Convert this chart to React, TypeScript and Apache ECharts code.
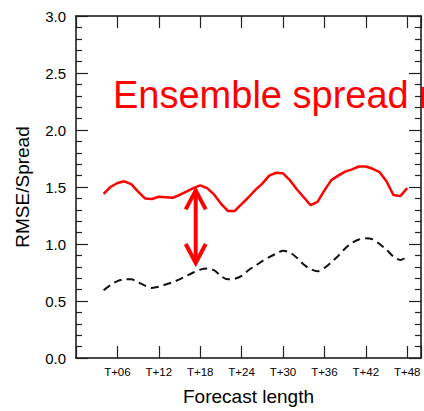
import React, { useEffect, useRef } from "react";
import * as echarts from "echarts";

const hours = [4, 5, 6, 7, 8, 9, 10, 11, 12, 13, 14, 15, 16, 17, 18, 19, 20, 21, 22, 23, 24, 25, 26, 27, 28, 29, 30, 31, 32, 33, 34, 35, 36, 37, 38, 39, 40, 41, 42, 43, 44, 45, 46, 47, 48];

const rmseSpread = [1.44, 1.5, 1.535, 1.55, 1.525, 1.46, 1.4, 1.395, 1.415, 1.41, 1.405, 1.43, 1.46, 1.49, 1.515, 1.49, 1.435, 1.355, 1.29, 1.29, 1.35, 1.41, 1.475, 1.53, 1.6, 1.625, 1.62, 1.56, 1.48, 1.41, 1.34, 1.37, 1.47, 1.56, 1.6, 1.635, 1.655, 1.68, 1.68, 1.66, 1.63, 1.55, 1.43, 1.42, 1.49];

const spreadRatio = [0.595, 0.64, 0.675, 0.69, 0.69, 0.665, 0.635, 0.615, 0.625, 0.645, 0.665, 0.69, 0.72, 0.75, 0.775, 0.785, 0.77, 0.72, 0.69, 0.695, 0.72, 0.77, 0.81, 0.85, 0.885, 0.915, 0.94, 0.925, 0.88, 0.82, 0.78, 0.76, 0.79, 0.84, 0.895, 0.96, 1.01, 1.04, 1.05, 1.04, 1.0, 0.95, 0.89, 0.86, 0.89];

// arrow annotation: [hour, top value, bottom value]
const arrowData = [[17.35, 1.47, 0.833]];

const xTickHours = [6, 12, 18, 24, 30, 36, 42, 48];
const titleText = "Ensemble spread not sufficient";
const xName = "Forecast length";
const yName = "RMSE/Spread";

const FONT = "Liberation Sans, Arial, Helvetica, sans-serif";

export default function App() {
  const ref = useRef<HTMLDivElement>(null);
  useEffect(() => {
    if (!ref.current) return;
    const chart = echarts.init(ref.current, undefined, { renderer: "svg" });
    const axisLine = { show: true, onZero: false, lineStyle: { color: "#111", width: 1.5 } };
    const yCommon = {
      type: "value" as const,
      min: 0,
      max: 3,
      interval: 0.5,
      axisLine,
      splitLine: { show: false },
      axisTick: { show: true, inside: true, length: 12, lineStyle: { color: "#222", width: 1.2 } },
      minorTick: { show: true, splitNumber: 5, length: 6, lineStyle: { color: "#222", width: 1.2 } },
      minorSplitLine: { show: false },
    };
    const xCommon = {
      type: "value" as const,
      min: 0,
      max: 50,
      interval: 6,
      axisLine,
      splitLine: { show: false },
      axisTick: { show: true, inside: true, length: 12, lineStyle: { color: "#222", width: 1.2 } },
    };
    chart.setOption({
      animation: false,
      grid: { left: 76, right: 0, top: 16, bottom: 48, containLabel: false },
      xAxis: [
        {
          ...xCommon,
          position: "bottom",
          name: xName,
          nameLocation: "middle",
          nameGap: 29,
          nameTextStyle: { fontFamily: FONT, fontSize: 19, color: "#000" },
          axisLabel: {
            fontFamily: FONT,
            fontSize: 11.5,
            color: "#000",
            margin: 8,
            formatter: (v: number) =>
              xTickHours.indexOf(v) >= 0 ? "T+" + String(v).padStart(2, "0") : "",
          },
        },
        {
          ...xCommon,
          position: "top",
          axisLabel: { show: false },
        },
      ],
      yAxis: [
        {
          ...yCommon,
          position: "left",
          name: yName,
          nameLocation: "middle",
          nameRotate: 90,
          nameGap: 44,
          nameTextStyle: { fontFamily: FONT, fontSize: 19, color: "#000" },
          axisLabel: {
            fontFamily: FONT,
            fontSize: 15,
            color: "#000",
            margin: 10,
            formatter: (v: number) => v.toFixed(1),
          },
        },
        {
          ...yCommon,
          position: "right",
          axisLabel: { show: false },
        },
      ],
      graphic: [
        {
          type: "text",
          x: 113,
          y: 95,
          style: {
            text: titleText,
            fill: "#ff0000",
            fontFamily: FONT,
            fontSize: 38,
            verticalAlign: "middle",
            align: "left",
          },
        },
      ],
      series: [
        {
          type: "line",
          data: hours.map((h, i) => [h, rmseSpread[i]]),
          showSymbol: false,
          lineStyle: { color: "#ff0000", width: 2.5 },
          z: 3,
        },
        {
          type: "line",
          data: hours.map((h, i) => [h, spreadRatio[i]]),
          showSymbol: false,
          smooth: 0.3,
          lineStyle: { color: "#111", width: 2, type: [8, 5] },
          z: 3,
        },
        {
          type: "custom",
          data: arrowData,
          z: 4,
          renderItem: (params: any, api: any) => {
            const top = api.coord([api.value(0), api.value(1)]);
            const bot = api.coord([api.value(0), api.value(2)]);
            const hw = 10;
            const hh = 19;
            const style = { stroke: "#ff0000", lineWidth: 4, fill: "none", lineCap: "butt", lineJoin: "miter" };
            return {
              type: "group",
              children: [
                { type: "line", shape: { x1: top[0], y1: top[1] + 2, x2: bot[0], y2: bot[1] - 2 }, style },
                {
                  type: "polyline",
                  shape: { points: [[top[0] - hw, top[1] + hh], [top[0], top[1]], [top[0] + hw, top[1] + hh]] },
                  style,
                },
                {
                  type: "polyline",
                  shape: { points: [[bot[0] - hw, bot[1] - hh], [bot[0], bot[1]], [bot[0] + hw, bot[1] - hh]] },
                  style,
                },
              ],
            };
          },
        },
      ],
    });
    return () => chart.dispose();
  }, []);
  return <div ref={ref} style={{ position: "absolute", left: 0, top: 0, width: 424, height: 411 }} />;
}
